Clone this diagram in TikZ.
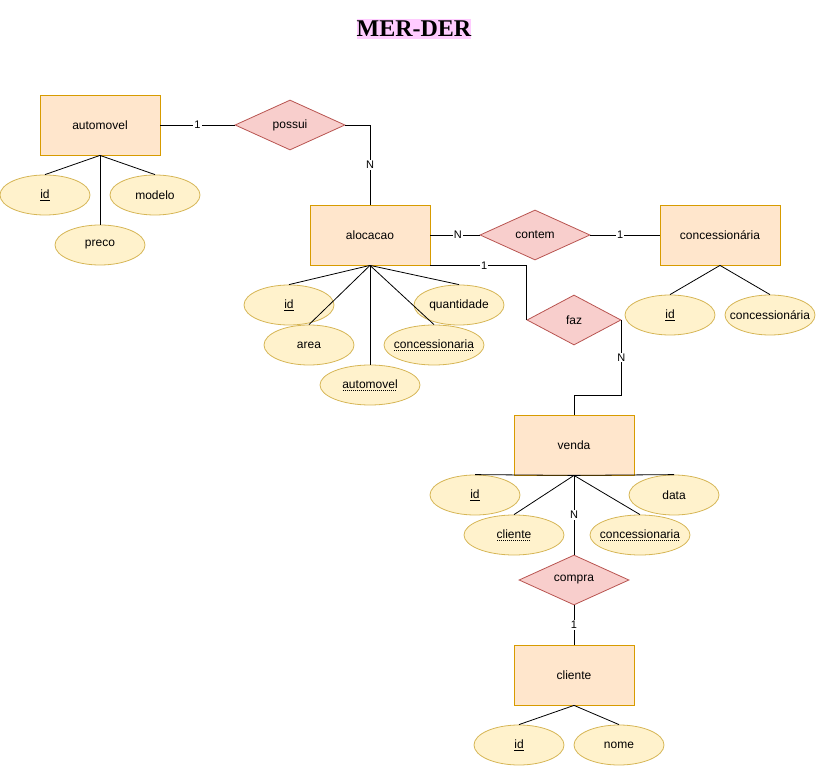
\documentclass[tikz,border=0pt]{standalone}
\usepackage{fontspec}
\setmainfont{Liberation Sans}
\newfontfamily\titlefont{Liberation Serif}
\usetikzlibrary{shapes.geometric}
\definecolor{entfill}{HTML}{FFE6CC}
\definecolor{entline}{HTML}{D79B00}
\definecolor{relfill}{HTML}{F8CECC}
\definecolor{relline}{HTML}{B85450}
\definecolor{attrfill}{HTML}{FFF2CC}
\definecolor{attrline}{HTML}{D6B656}
\definecolor{titlebg}{HTML}{FFCCFF}
% dotted underline for foreign keys
\newcommand{\fkey}[1]{\setbox0=\hbox{#1}\rlap{\raisebox{-2.5pt}{\hbox to \wd0{\leaders\hbox to 2pt{\hss\vrule height 0.9pt width 1pt\hss}\hfill}}}\box0}

\begin{document}
\begin{tikzpicture}[x=1pt,y=-1pt,line width=0.8pt,
  every node/.style={font=\fontsize{12}{14}\selectfont},
  ent/.style={draw=entline,fill=entfill,minimum width=120,minimum height=60,inner sep=0pt},
  rel/.style={diamond,draw=relline,fill=relfill,aspect=2.2,minimum width=#1,minimum height=50,inner sep=0pt},
  rel/.default=110,
  attr/.style={ellipse,draw=attrline,fill=attrfill,minimum width=#1,minimum height=40,inner sep=0pt,
    execute at begin node={\hbox to 0pt\bgroup\hss},execute at end node={\hss\egroup}},
  attr/.default=90,
  card/.style={fill=white,inner sep=1pt,font=\fontsize{11}{12}\selectfont}]
\useasboundingbox (0,0) rectangle (817,767);

\node[fill=titlebg,inner xsep=0pt,inner ysep=2pt,font=\titlefont\bfseries\fontsize{24}{26}\selectfont] (title) at (414,29) {MER-DER};

% entities
\node[ent] (auto) at (100,125) {automovel};
\node[ent] (aloc) at (370,235) {alocacao};
\node[ent] (conc) at (720,235) {concessionária};
\node[ent] (venda) at (574,445) {venda};
\node[ent] (cli) at (574,675) {cliente};

% relationships
\node[rel] (possui) at (290,125) {possui};
\node[rel] (contem) at (535,235) {contem};
\node[rel=94] (faz) at (574,320) {faz};
\node[rel] (compra) at (574,580) {compra};

% attributes
\node[attr] (autoid) at (45,195) {\underline{id}};
\node[attr] (modelo) at (155,195) {modelo};
\node[attr] (preco) at (100,245) {preco};

\node[attr] (alocid) at (289,305) {\underline{id}};
\node[attr] (area) at (309,345) {area};
\node[attr=100] (alocauto) at (370,385) {\fkey{automovel}};
\node[attr=100] (alocconc) at (434,345) {\fkey{concessionaria}};
\node[attr] (qtd) at (459,305) {quantidade};

\node[attr] (concid) at (670,315) {\underline{id}};
\node[attr] (concnome) at (770,315) {concessionária};

\node[attr] (vendaid) at (475,495) {\underline{id}};
\node[attr] (data) at (674,495) {data};
\node[attr=100] (vendacli) at (514,535) {\fkey{cliente}};
\node[attr=100] (vendaconc) at (640,535) {\fkey{concessionaria}};

\node[attr] (cliid) at (519,745) {\underline{id}};
\node[attr] (nome) at (619,745) {nome};

% relationship lines
\draw (auto) -- node[card]{1} (possui);
\draw (possui.east) -| node[card,pos=0.75]{N} (aloc.north);
\draw (aloc) -- node[card,pos=0.56]{N} (contem);
\draw (contem) -- node[card,pos=0.43]{1} (conc);
\draw (aloc.south east) -| node[card,pos=0.28]{1} (faz.west);
\draw (faz.east) -- node[card]{N} ++(0,75) -| (venda.north);
\draw (venda.south) -- node[card]{N} (compra.north);
\draw (compra.south) -- node[card]{1} (cli.north);

% attribute lines
\foreach \a in {autoid,modelo,preco} \draw (auto.south) -- (\a.north);
\foreach \a in {alocid,area,alocauto,alocconc,qtd} \draw (aloc.south) -- (\a.north);
\foreach \a in {concid,concnome} \draw (conc.south) -- (\a.north);
\foreach \a in {vendaid,data,vendacli,vendaconc} \draw (venda.south) -- (\a.north);
\foreach \a in {cliid,nome} \draw (cli.south) -- (\a.north);
\end{tikzpicture}
\end{document}
